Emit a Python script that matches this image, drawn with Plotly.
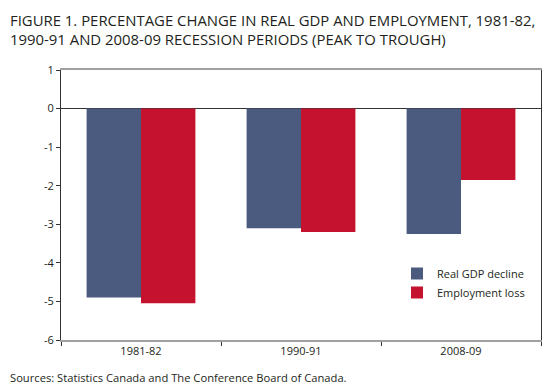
import plotly.graph_objects as go

categories = ["1981-82", "1990-91", "2008-09"]
gdp = [-4.9, -3.1, -3.25]
employment = [-5.05, -3.2, -1.85]
series_names = ["Real GDP decline", "Employment loss"]
y_ticks = [1, 0, -1, -2, -3, -4, -5, -6]
y_tick_labels = ["1", "0", "-1", "-2", "-3", "-4", "-5", "-6"]

BLUE = "#4b5b80"
RED = "#c4122f"
FONT = "Open Sans"
TXT = "#231f20"

fig = go.Figure()
fig.add_trace(go.Bar(x=categories, y=gdp, name=series_names[0], marker=dict(color=BLUE, line=dict(width=0))))
fig.add_trace(go.Bar(x=categories, y=employment, name=series_names[1], marker=dict(color=RED, line=dict(width=0))))

# page body has an 8px margin: figure is 550x384 so the plot lands where the reference has it
fig.update_layout(
    width=550, height=384,
    margin=dict(l=53, r=17, t=62, b=52),
    paper_bgcolor="white", plot_bgcolor="white",
    barmode="group", bargap=0.32, bargroupgap=0,
    font=dict(family=FONT, color=TXT, size=11),
    showlegend=True,
    legend=dict(x=0.70, y=0.30, xanchor="left", yanchor="top",
                bgcolor="rgba(0,0,0,0)", font=dict(size=11, color=TXT),
                itemwidth=30, tracegroupgap=0),
    xaxis=dict(type="category", showgrid=False, showline=True, linecolor="#a0a0a0", linewidth=1.5,
               mirror=True, ticks="outside", tickson="boundaries", ticklen=4, tickcolor="#333",
               tickfont=dict(size=11, color=TXT), zeroline=False),
    yaxis=dict(range=[-6, 1], tickvals=y_ticks, ticktext=y_tick_labels, showgrid=False, showline=True,
               linecolor="#333", linewidth=1, mirror=True, ticks="outside", ticklen=4, tickcolor="#333",
               tickfont=dict(size=11, color=TXT), zeroline=True, zerolinecolor="#333", zerolinewidth=1),
)

fig.add_annotation(text="FIGURE 1. PERCENTAGE CHANGE IN REAL GDP AND EMPLOYMENT, 1981-82,<br>1990-91 AND 2008-09 RECESSION PERIODS (PEAK TO TROUGH)",
                   xref="paper", yref="paper", x=-53/480, y=1 + 62/270, xanchor="left", yanchor="top",
                   align="left", showarrow=False, font=dict(size=14.9, color=TXT, family=FONT))
fig.add_annotation(text="Sources: Statistics Canada and The Conference Board of Canada.",
                   xref="paper", yref="paper", x=-53/480, y=-28/270, xanchor="left", yanchor="top",
                   align="left", showarrow=False, font=dict(size=11.2, color=TXT, family=FONT))

fig.write_html("out.html")
